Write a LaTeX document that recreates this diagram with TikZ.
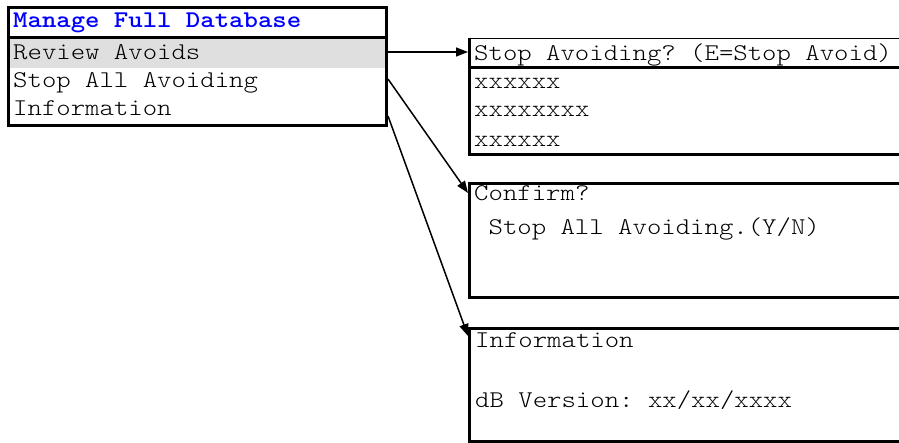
\documentclass[tikz,border=0pt]{standalone}
\usepackage{fontspec}
\setmonofont{Latin Modern Mono Light}[FakeStretch=1.143]
\usetikzlibrary{arrows.meta}
\tikzset{
  lcd/.style={font=\ttfamily\fontsize{24}{28}\selectfont, inner sep=0pt, anchor=base west},
  frame/.style={line width=3pt},
  link/.style={line width=1.5pt, -{Triangle[length=12pt,width=9pt]}}
}
\begin{document}
\begin{tikzpicture}[x=1pt,y=1pt]
\useasboundingbox (0,0) rectangle (899,-443);
\clip (0,0) rectangle (899,-443);

% main menu
\fill[gray!25] (9,-39) rectangle (385,-68);
\draw[frame] (8,-7.5) rectangle (386.5,-125.5);
\draw[frame] (8,-38) -- (386.5,-38);
\node[lcd, text=blue, font=\ttfamily\bfseries\fontsize{24}{28}\selectfont] (title) at (13,-28) {Manage Full Database};
\node[lcd] (review) at (13,-60) {Review Avoids};
\node[lcd] (stopall) at (13,-88) {Stop All Avoiding};
\node[lcd] (info) at (13,-116) {Information};

% screen 1
\draw[line width=1pt] (469.5,-39) -- (905,-39);
\draw[frame] (469.5,-38) -- (469.5,-154.5) -- (905,-154.5);
\draw[frame] (469.5,-68) -- (905,-68);
\node[lcd] (avoidhdr) at (474,-61) {Stop Avoiding? (E=Stop Avoid)};
\node[lcd] (rowa) at (474,-89) {xxxxxx};
\node[lcd] (rowb) at (474,-117) {xxxxxxxx};
\node[lcd] (rowc) at (474,-147) {xxxxxx};

% screen 2
\draw[frame] (905,-184) -- (469.5,-184) -- (469.5,-297.5) -- (905,-297.5);
\node[lcd] (confirm) at (474,-201) {Confirm?};
\node[lcd] (confirmq) at (474,-235) {\ Stop All Avoiding.(Y/N)};

% screen 3
\draw[frame] (905,-329) -- (469.5,-329) -- (469.5,-441.5) -- (905,-441.5);
\node[lcd] (infohdr) at (475,-348) {Information};
\node[lcd] (version) at (475,-407) {dB Version: xx/xx/xxxx};

% links
\coordinate (srcA) at (388,-52);
\coordinate (srcB) at (388,-79);
\coordinate (srcC) at (388,-116);
\coordinate (dstA) at (468,-52);
\coordinate (dstB) at (468,-193);
\coordinate (dstC) at (468,-336);
\draw[link] (srcA) -- (dstA);
\draw[link] (srcB) -- (dstB);
\draw[link] (srcC) -- (dstC);
\end{tikzpicture}
\end{document}
